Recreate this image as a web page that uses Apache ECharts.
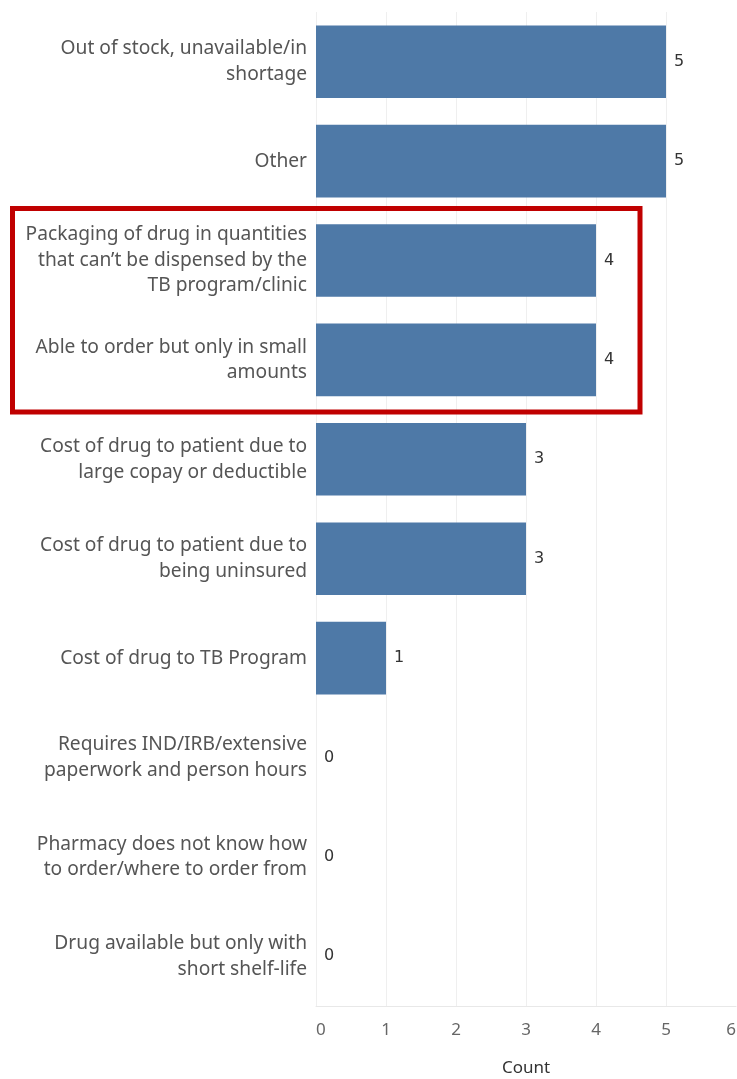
<!DOCTYPE html>
<html><head><meta charset="utf-8">
<script src="https://cdn.jsdelivr.net/npm/echarts@6/dist/echarts.min.js"></script>
<style>html,body{margin:0;padding:0;background:#fff;overflow:hidden;width:737px;height:1079px}#c{width:737px;height:1079px;position:absolute;left:0;top:0}</style>
</head><body><div id="c"></div>
<script>
const categories = [
  "Out of stock, unavailable/in\nshortage",
  "Other",
  "Packaging of drug in quantities\nthat can\u2019t be dispensed by the\nTB program/clinic",
  "Able to order but only in small\namounts",
  "Cost of drug to patient due to\nlarge copay or deductible",
  "Cost of drug to patient due to\nbeing uninsured",
  "Cost of drug to TB Program",
  "Requires IND/IRB/extensive\npaperwork and person hours",
  "Pharmacy does not know how\nto order/where to order from",
  "Drug available but only with\nshort shelf-life"
];
const counts = [5, 5, 4, 4, 3, 3, 1, 0, 0, 0];
const xTicks = [0, 1, 2, 3, 4, 5, 6];
const axisTitle = "Count";

const chart = echarts.init(document.getElementById('c'), null, {renderer: 'canvas', width: 737, height: 1079});
chart.setOption({
  animation: false,
  grid: {left: 316, right: 1, top: 12, bottom: 73, containLabel: false, outerBoundsMode: 'none'},
  xAxis: {
    type: 'value', min: xTicks[0], max: xTicks[xTicks.length - 1], interval: 1,
    name: axisTitle, nameLocation: 'middle', nameGap: 54,
    nameTextStyle: {color: '#333', fontSize: 17, fontFamily: 'Noto Sans'},
    axisLine: {show: true, lineStyle: {color: '#e8e8e8', width: 1}},
    axisTick: {show: false},
    axisLabel: {color: '#666', fontSize: 17, fontFamily: 'Noto Sans', margin: 16,
      alignMinLabel: 'left', alignMaxLabel: 'right',
      formatter: v => String(v)},
    splitLine: {show: true, showMinLine: true, showMaxLine: false, lineStyle: {color: '#efefef', width: 1}}
  },
  yAxis: {
    type: 'category', data: categories, inverse: true,
    axisLine: {show: false}, axisTick: {show: false},
    axisLabel: {color: '#555', fontSize: 19.2, fontFamily: 'Noto Sans', lineHeight: 25.5, margin: 9, align: 'right', padding: [8, 0, 0, 0]},
    splitLine: {show: false}
  },
  series: [{
    type: 'bar', data: counts, barCategoryGap: '27%',
    itemStyle: {color: '#4e79a7'},
    label: {show: true, position: 'right', distance: 8, color: '#333', fontSize: 16, fontFamily: 'DejaVu Sans', padding: [5, 0, 0, 0]}
  }],
  graphic: [{
    type: 'rect', shape: {x: 12.5, y: 208.5, width: 627.5, height: 203.5},
    style: {fill: 'none', stroke: '#c00000', lineWidth: 5}, z: 100
  }]
});
</script></body></html>
